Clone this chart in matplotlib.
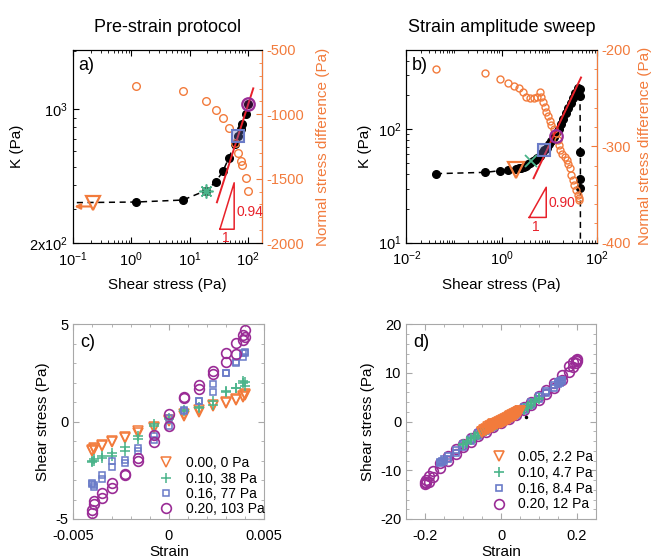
import numpy as np
import matplotlib
matplotlib.use('Agg')
import matplotlib.pyplot as plt
from matplotlib.ticker import FixedLocator, MultipleLocator, LogLocator, NullFormatter

plt.rcParams['font.family'] = 'Liberation Sans'
plt.rcParams['mathtext.fontset'] = 'custom'
plt.rcParams['mathtext.rm'] = 'Liberation Sans'
plt.rcParams['mathtext.it'] = 'Liberation Sans:italic'
plt.rcParams['axes.unicode_minus'] = False
plt.rcParams['font.size'] = 10

ORANGE = '#F27B3C'
GREEN = '#4AB48A'
BLUE = '#6A7BC8'
PURPLE = '#9A2C96'
RED = '#E8212A'
GRAY = '#A8A8A8'

# ---- panel a: pre-strain protocol ----
a_stress = [0.05, 1.2, 7.7, 18.9, 28.4, 37.4, 46.8, 59.3, 67.6, 75.2, 80.2, 91.6, 100]
a_K = [324, 327, 335, 375, 417, 474, 552, 656, 724, 782, 834, 946, 1055]
a_N_stress = [1.2, 7.7, 18.9, 28.4, 37.4, 46.8, 59.3, 67.6, 75.2, 80.2, 91.6, 100]
a_N = [-782, -821, -894, -966, -1031, -1108, -1225, -1298, -1365, -1391, -1497, -1596]
a_hl_stress = [0.22, 18.9, 67.6, 100]
a_hl_K = [322, 375, 724, 1055]
a_fit_stress = [29.5, 124]
a_fit_K = [326, 1279]
a_slope_x = [33.2, 58.3, 58.3, 33.2]
a_slope_y = [236, 236, 412, 236]

# ---- panel b: strain amplitude sweep ----
b_stress = [0.042, 0.46, 0.91, 1.36, 2.04, 2.3, 2.6, 2.9, 3.2, 3.6, 4.0, 4.5, 5.0, 5.6,
            6.3, 7.0, 7.9, 8.9, 10.0, 11.2, 12.6, 14.1, 15.8, 17.8, 20.0, 22.4, 25.1,
            28.2, 31.6, 35.5, 39.8, 43.5, 44.5, 45.4, 45.4, 45.4, 45.4]
b_K = [40.6, 41.7, 43.1, 43.8, 45.0, 45.2, 45.8, 46.8, 47.7, 49.2, 50.5, 52, 54, 56.2,
       58.5, 61.5, 65, 69, 74, 79.5, 86, 93.5, 101, 112, 124, 138, 153,
       170, 188, 210, 232, 225, 195, 63.5, 36.5, 30.5, 5]
b_N_stress = [0.042, 0.46, 0.94, 1.34, 1.79, 2.28, 2.82, 3.31, 4.02, 4.72, 5.56, 6.3,
              6.85, 7.4, 8.0, 8.7, 9.5, 10.2, 11.1, 12.4, 14.0, 15.1, 16.2, 17.2, 19.0,
              21.2, 23.3, 25.3, 27.5, 29.3, 31.3, 33.9, 36.8, 39.8, 42.0, 43.2]
b_N = [-220, -224, -230, -234.6, -237, -239.8, -243.9, -248.5, -250, -249.5, -248.5, -244,
       -248.5, -253.6, -258.8, -264, -269, -273.7, -277.8, -282, -286.5, -293.4, -298.6,
       -303.8, -308.3, -310.7, -314, -318.6, -322.8, -329.7, -335, -340, -345, -350,
       -354, -356]
b_hl_stress = [2.0, 4.2, 7.7, 13.7]
b_hl_K = [44, 52.5, 65, 88]
b_fit_stress = [4.72, 46.8]
b_fit_K = [37, 286]
b_slope_x = [3.82, 8.7, 8.7, 3.82]
b_slope_y = [16.7, 16.7, 30.8, 16.7]

# ---- panel c: Lissajous at pre-strain ----
c_strain = [-0.004, -0.0039, -0.0035, -0.003, -0.0023, -0.0016, -0.0008, 0,
            0.0008, 0.0016, 0.0023, 0.003, 0.0035, 0.0039, 0.004,
            0.004, 0.0039, 0.0035, 0.003, 0.0023, 0.0016, 0.0008, 0,
            -0.0008, -0.0016, -0.0023, -0.003, -0.0035, -0.0039, -0.004]
c_orange = [-1.45, -1.35, -1.2, -1.05, -0.85, -0.6, -0.35, 0.05,
            0.3, 0.5, 0.8, 0.95, 1.15, 1.3, 1.42,
            1.35, 1.25, 1.1, 1.0, 0.85, 0.6, 0.4, 0.1,
            -0.25, -0.5, -0.8, -1.0, -1.25, -1.4, -1.5]
c_green = [-2.05, -1.9, -1.75, -1.6, -1.3, -0.75, -0.2, 0.15,
           0.55, 0.7, 0.85, 1.5, 1.75, 2.0, 2.05,
           1.85, 2.1, 1.75, 1.55, 1.05, 0.75, 0.6, 0.2,
           -0.1, -0.9, -1.5, -1.75, -1.85, -2.0, -2.0]
c_blue = [-3.15, -3.25, -2.95, -2.35, -2.1, -1.5, -0.95, -0.2,
          0.55, 1.05, 1.5, 2.5, 3.0, 3.3, 3.6,
          3.55, 3.55, 3.05, 2.5, 1.95, 1.05, 0.6, 0.2,
          -0.75, -1.35, -1.95, -2.0, -2.75, -3.35, -3.2]
c_purple = [-4.7, -4.25, -3.9, -3.4, -2.75, -2.0, -1.05, -0.2,
            1.2, 1.7, 2.45, 3.05, 3.5, 4.2, 4.35,
            4.7, 4.45, 4.05, 3.55, 2.6, 1.9, 1.25, 0.4,
            -0.7, -1.85, -2.7, -3.15, -3.65, -4.05, -4.55]
c_labels = ['0.00, 0 Pa', '0.10, 38 Pa', '0.16, 77 Pa', '0.20, 103 Pa']

# ---- panel d: Lissajous at strain amplitudes ----
d_orange_x = [-0.05, -0.045, -0.04, -0.035, -0.03, -0.025, -0.02, -0.015, -0.01, -0.005, 0,
              0.005, 0.01, 0.015, 0.02, 0.025, 0.03, 0.035, 0.04, 0.045, 0.05]
d_orange_up = [-2.1, -1.75, -1.45, -1.2, -0.98, -0.78, -0.58, -0.38, -0.18, 0.02, 0.2,
               0.38, 0.56, 0.75, 0.94, 1.14, 1.35, 1.58, 1.82, 2.02, 2.2]
d_orange_dn = [-2.2, -2.0, -1.78, -1.56, -1.34, -1.13, -0.93, -0.74, -0.55, -0.37, -0.18,
               0.02, 0.2, 0.38, 0.58, 0.78, 0.98, 1.2, 1.45, 1.75, 2.1]
d_green_x = [-0.1, -0.09, -0.08, -0.07, -0.06, -0.05, -0.04, -0.03, -0.02, -0.01, 0,
             0.01, 0.02, 0.03, 0.04, 0.05, 0.06, 0.07, 0.08, 0.09, 0.1]
d_green_up = [-4.6, -4.0, -3.4, -2.85, -2.35, -1.9, -1.45, -1.0, -0.6, -0.2, 0.2,
              0.6, 1.0, 1.4, 1.85, 2.3, 2.8, 3.3, 3.85, 4.4, 4.8]
d_green_dn = [-4.8, -4.4, -3.85, -3.3, -2.8, -2.3, -1.85, -1.4, -1.0, -0.6, -0.2,
              0.2, 0.6, 1.0, 1.45, 1.9, 2.35, 2.85, 3.4, 4.0, 4.6]
d_blue_x = [-0.16, -0.155, -0.15, -0.14, -0.12, -0.1, -0.08, -0.06, -0.04, -0.02, 0,
            0.02, 0.04, 0.06, 0.08, 0.1, 0.12, 0.14, 0.15, 0.155, 0.16]
d_blue_up = [-8.3, -8.0, -7.7, -7.0, -5.8, -4.6, -3.5, -2.4, -1.45, -0.55, 0.3,
             1.1, 2.0, 3.0, 4.0, 5.2, 6.4, 7.6, 8.1, 8.3, 8.5]
d_blue_dn = [-8.5, -8.3, -8.1, -7.6, -6.4, -5.2, -4.0, -3.0, -2.0, -1.1, -0.3,
             0.55, 1.45, 2.4, 3.5, 4.6, 5.8, 7.0, 7.7, 8.0, 8.3]
d_purple_x = [-0.2, -0.197, -0.19, -0.18, -0.16, -0.14, -0.12, -0.1, -0.08, -0.06, -0.04,
              -0.02, 0, 0.02, 0.04, 0.06, 0.08, 0.1, 0.12, 0.14, 0.16, 0.18, 0.19, 0.197, 0.2]
d_purple_up = [-12.4, -12.0, -11.2, -10.2, -8.5, -7.0, -5.7, -4.5, -3.4, -2.3, -1.4,
               -0.5, 0.35, 1.2, 2.1, 3.05, 4.1, 5.3, 6.6, 8.0, 9.6, 11.4, 12.3, 12.7, 12.9]
d_purple_dn = [-12.9, -12.7, -12.3, -11.4, -9.6, -8.0, -6.6, -5.3, -4.1, -3.05, -2.1,
               -1.2, -0.35, 0.5, 1.4, 2.3, 3.4, 4.5, 5.7, 7.0, 8.5, 10.2, 11.2, 12.0, 12.4]
d_stray_x = [0.065]
d_stray_y = [1.0]
d_labels = ['0.05, 2.2 Pa', '0.10, 4.7 Pa', '0.16, 8.4 Pa', '0.20, 12 Pa']

fig = plt.figure(figsize=(6.54, 5.58), dpi=100)


def style_ticks(ax, color='k'):
    ax.tick_params(which='both', direction='in', top=True, colors=color, labelcolor='k',
                   labelsize=10.5)
    ax.tick_params(which='major', length=4)
    ax.tick_params(which='minor', length=2.2)
    ax.tick_params(axis='x', which='major', pad=5)


# ================= a =================
ax = fig.add_axes([0.1116, 0.5645, 0.289, 0.3459])
ax.set_xscale('log')
ax.set_yscale('log')
ax.plot(a_stress, a_K, color='k', ls='--', dashes=(4, 3), lw=1.1,
        marker='o', ms=5.5, mfc='k', mec='k')
ax.set_xlabel('Shear stress (Pa)', fontsize=11, labelpad=7)
ax.set_ylabel('K (Pa)', fontsize=11)
ax.set_title('Pre-strain protocol', fontsize=13, pad=13)
ax.text(0.03, 0.965, 'a)', transform=ax.transAxes, fontsize=13, va='top', ha='left')
ax.annotate('', xy=(0.106, 310), xytext=(0.2, 310),
            arrowprops=dict(arrowstyle='-|>', color=ORANGE, lw=1.5, mutation_scale=8,
                            shrinkA=0, shrinkB=0))
ax.xaxis.set_major_locator(FixedLocator([0.1, 1, 10, 100]))
ax.set_xticklabels(['10$^{-1}$', '10$^{0}$', '10$^{1}$', '10$^{2}$'])
ax.xaxis.set_minor_locator(LogLocator(base=10, subs=np.arange(2, 10)))
ax.xaxis.set_minor_formatter(NullFormatter())
ax.yaxis.set_major_locator(FixedLocator([200, 1000]))
ax.set_yticklabels(['2x10$^{2}$', '10$^{3}$'])
ax.yaxis.set_minor_locator(FixedLocator([300, 400, 500, 600, 700, 800, 900, 2000]))
ax.yaxis.set_minor_formatter(NullFormatter())
style_ticks(ax)
ax.tick_params(axis='y', which='both', right=False)

ax2 = ax.twinx()
ax2.plot(a_N_stress, a_N, ls='none', marker='o', ms=5.5, mfc='none', mec=ORANGE, mew=1.0)
ax2.plot(a_fit_stress, a_fit_K, color=RED, lw=1.4, transform=ax.transData)
ax2.plot(a_slope_x, a_slope_y, color=RED, lw=1.1, transform=ax.transData)
ax2.text(63, 290, '0.94', color=RED, fontsize=10, va='center', ha='left',
         transform=ax.transData)
ax2.text(42, 213, '1', color=RED, fontsize=10, va='center', ha='center',
         transform=ax.transData)
hl_styles = [dict(marker='v', ms=10, mfc='none', mec=ORANGE, mew=1.6),
             dict(marker=(8, 2, 0), ms=10, mfc=GREEN, mec=GREEN, mew=1.2),
             dict(marker='s', ms=8, mfc=(0.42, 0.48, 0.78, 0.35), mec=BLUE, mew=1.5),
             dict(marker='o', ms=9, mfc=(0.6, 0.17, 0.59, 0.3), mec=PURPLE, mew=1.6)]
for i in range(4):
    ax2.plot([a_hl_stress[i]], [a_hl_K[i]], ls='none', transform=ax.transData, **hl_styles[i])
ax2.set_ylim(-2000, -500)
ax2.yaxis.set_major_locator(FixedLocator([-2000, -1500, -1000, -500]))
ax2.yaxis.set_minor_locator(MultipleLocator(100))
ax2.set_ylabel('Normal stress difference (Pa)', color=ORANGE, fontsize=11, labelpad=8)
ax2.tick_params(axis='y', which='both', direction='in', colors=ORANGE, labelsize=10.5)
ax2.tick_params(axis='y', which='major', length=4)
ax2.tick_params(axis='y', which='minor', length=2.2)
ax2.spines['right'].set_color(ORANGE)
ax.set_xlim(0.1, 175)
ax.set_ylim(200, 2027)

# ================= b =================
bx = fig.add_axes([0.6213, 0.5651, 0.2911, 0.3453])
bx.set_xscale('log')
bx.set_yscale('log')
bx.plot(b_stress, b_K, color='k', ls='--', dashes=(4, 3), lw=1.1,
        marker='o', ms=5.5, mfc='k', mec='k')
bx.set_xlabel('Shear stress (Pa)', fontsize=11, labelpad=7)
bx.set_ylabel('K (Pa)', fontsize=11)
bx.set_title('Strain amplitude sweep', fontsize=13, pad=13)
bx.text(0.03, 0.965, 'b)', transform=bx.transAxes, fontsize=13, va='top', ha='left')
bx.xaxis.set_major_locator(FixedLocator([0.01, 1, 100]))
bx.set_xticklabels(['10$^{-2}$', '10$^{0}$', '10$^{2}$'])
bx.xaxis.set_minor_locator(LogLocator(base=10, subs=np.arange(1, 10)))
bx.xaxis.set_minor_formatter(NullFormatter())
bx.yaxis.set_major_locator(FixedLocator([10, 100]))
bx.set_yticklabels(['10$^{1}$', '10$^{2}$'])
bx.yaxis.set_minor_locator(LogLocator(base=10, subs=np.arange(2, 10)))
bx.yaxis.set_minor_formatter(NullFormatter())
style_ticks(bx)
bx.tick_params(axis='y', which='both', right=False)

bx2 = bx.twinx()
bx2.plot(b_N_stress, b_N, ls='none', marker='o', ms=5, mfc='none', mec=ORANGE, mew=1.0)
bx2.plot(b_fit_stress, b_fit_K, color=RED, lw=1.4, transform=bx.transData)
bx2.plot(b_slope_x, b_slope_y, color=RED, lw=1.1, transform=bx.transData)
bx2.text(9.6, 22.2, '0.90', color=RED, fontsize=10, va='center', ha='left',
         transform=bx.transData)
bx2.text(5.3, 13.8, '1', color=RED, fontsize=10, va='center', ha='center',
         transform=bx.transData)
hl_b = [dict(marker='v', ms=11, mfc='none', mec=ORANGE, mew=1.6),
        dict(marker='x', ms=8, mfc=GREEN, mec=GREEN, mew=1.3),
        dict(marker='s', ms=8, mfc=(0.42, 0.48, 0.78, 0.35), mec=BLUE, mew=1.5),
        dict(marker='o', ms=9, mfc='none', mec=PURPLE, mew=1.6)]
for i in range(4):
    bx2.plot([b_hl_stress[i]], [b_hl_K[i]], ls='none', transform=bx.transData, **hl_b[i])
bx2.set_ylim(-400, -200)
bx2.yaxis.set_major_locator(FixedLocator([-400, -300, -200]))
bx2.yaxis.set_minor_locator(MultipleLocator(20))
bx2.set_ylabel('Normal stress difference (Pa)', color=ORANGE, fontsize=11, labelpad=5)
bx2.tick_params(axis='y', which='both', direction='in', colors=ORANGE, labelsize=10.5)
bx2.tick_params(axis='y', which='major', length=4)
bx2.tick_params(axis='y', which='minor', length=2.2)
bx2.spines['right'].set_color(ORANGE)
bx.set_xlim(0.01, 100)
bx.set_ylim(10, 500)


def style_box(ax):
    for s in ax.spines.values():
        s.set_color(GRAY)
    ax.tick_params(which='both', direction='in', top=True, right=True, colors=GRAY,
                   labelcolor='k', labelsize=10.5)
    ax.tick_params(which='major', length=4)
    ax.tick_params(which='minor', length=2.2)
    ax.tick_params(axis='x', which='major', pad=7)


# ================= c =================
cx = fig.add_axes([0.1121, 0.0699, 0.292, 0.3489])
hc = []
hc.append(cx.plot(c_strain, c_orange, ls='none', marker='v', ms=7, mfc='none', mec=ORANGE, mew=1.1)[0])
hc.append(cx.plot(c_strain, c_green, ls='none', marker='+', ms=7.5, color=GREEN, mew=1.1)[0])
hc.append(cx.plot(c_strain, c_blue, ls='none', marker='s', ms=5, mfc='none', mec=BLUE, mew=1.1)[0])
hc.append(cx.plot(c_strain, c_purple, ls='none', marker='o', ms=7, mfc='none', mec=PURPLE, mew=1.2)[0])
cx.set_xlim(-0.005, 0.005)
cx.set_ylim(-5, 5)
cx.xaxis.set_major_locator(FixedLocator([-0.005, 0, 0.005]))
cx.set_xticklabels(['-0.005', '0', '0.005'])
cx.xaxis.set_minor_locator(MultipleLocator(0.001))
cx.yaxis.set_major_locator(FixedLocator([-5, 0, 5]))
cx.yaxis.set_minor_locator(MultipleLocator(1))
style_box(cx)
cx.set_xlabel('Strain', fontsize=11, labelpad=2)
cx.set_ylabel('Shear stress (Pa)', fontsize=11)
cx.text(0.035, 0.95, 'c)', transform=cx.transAxes, fontsize=13, va='top', ha='left')
cx.legend(hc, c_labels, loc='lower left', bbox_to_anchor=(0.40, -0.015), frameon=False,
          fontsize=10, labelspacing=0.1, handletextpad=0.6, handlelength=1.6,
          borderaxespad=0)

# ================= d =================
dx = fig.add_axes([0.6213, 0.0699, 0.2896, 0.3489])
hp = dx.plot(d_purple_x + d_purple_x, d_purple_up + d_purple_dn, ls='none', marker='o', ms=7,
             mfc='none', mec=PURPLE, mew=1.2)[0]
hb = dx.plot(d_blue_x + d_blue_x, d_blue_up + d_blue_dn, ls='none', marker='s', ms=5,
             mfc='none', mec=BLUE, mew=1.2)[0]
hg = dx.plot(d_green_x + d_green_x, d_green_up + d_green_dn, ls='none', marker='+', ms=7.5,
             color=GREEN, mew=1.2)[0]
ho = dx.plot(d_orange_x + d_orange_x, d_orange_up + d_orange_dn, ls='none', marker='v', ms=7,
             mfc='none', mec=ORANGE, mew=1.2)[0]
dx.plot(d_stray_x, d_stray_y, ls='none', marker='o', ms=1.5, color='k')
dx.set_xlim(-0.25, 0.25)
dx.set_ylim(-20, 20)
dx.xaxis.set_major_locator(FixedLocator([-0.2, 0, 0.2]))
dx.set_xticklabels(['-0.2', '0', '0.2'])
dx.xaxis.set_minor_locator(MultipleLocator(0.05))
dx.yaxis.set_major_locator(FixedLocator([-20, -10, 0, 10, 20]))
dx.yaxis.set_minor_locator(MultipleLocator(2))
style_box(dx)
dx.set_xlabel('Strain', fontsize=11, labelpad=2)
dx.set_ylabel('Shear stress (Pa)', fontsize=11)
dx.text(0.035, 0.95, 'd)', transform=dx.transAxes, fontsize=13, va='top', ha='left')
dx.legend([ho, hg, hb, hp], d_labels, loc='lower left', bbox_to_anchor=(0.40, 0.01),
          frameon=False, fontsize=10, labelspacing=0.13, handletextpad=0.6,
          handlelength=1.6, borderaxespad=0)

fig.savefig('out.png', dpi=100)
